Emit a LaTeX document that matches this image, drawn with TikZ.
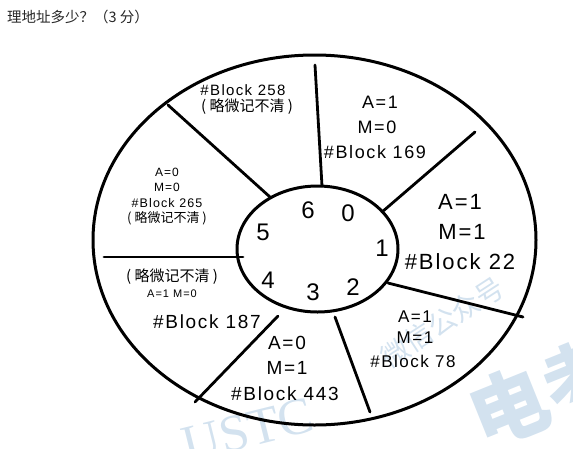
\documentclass[tikz,border=0pt]{standalone}
\usepackage{fontspec}
\usetikzlibrary{shapes.geometric}
\setmainfont{Liberation Sans}
\newfontfamily\hand[LetterSpace=9]{Liberation Sans}
\newfontfamily\cjk{Noto Sans CJK SC}
\newfontfamily\wmserif{Liberation Serif}
\definecolor{wmblue}{HTML}{D3E2EF}
\definecolor{titlegray}{HTML}{262626}
\begin{document}
\begin{tikzpicture}[x=1pt,y=-1pt,
  wheel/.style={line width=3pt, black},
  spoke/.style={line width=2.8pt, black, line cap=round},
  txt/.style={inner sep=0pt, anchor=center},
  wm/.style={inner sep=0pt, text=wmblue}]
\useasboundingbox (0,0) rectangle (573,448);
% watermark
\node[wm, rotate=33, font=\cjk\fontsize{28}{28}\selectfont] (wm1) at (442,322) {微信公众号};
\node[wm, rotate=14, font=\wmserif\fontsize{52}{52}\selectfont] (wm2) at (248,430) {USTC};
\node[wm, rotate=22, font=\cjk\bfseries\fontsize{78}{78}\selectfont] (wm3) at (545,392) {电考};
% title
\node[inner sep=0pt, anchor=west, text=titlegray, font=\cjk\fontsize{14.5}{16}\selectfont] (title) at (7,17) {理地址多少？（3 分）};
% wheel
\node[draw, wheel, ellipse, minimum width=443pt, minimum height=370pt, inner sep=0pt] (outer) at (314.5,240) {};
\coordinate (ic) at (317.5,249);
\draw[wheel] (ic) ellipse [x radius=80.5pt, y radius=63pt];
% spokes
\coordinate (s1a) at (315,65);  \coordinate (s1b) at (322,186);
\coordinate (s2a) at (168,105); \coordinate (s2b) at (270,197);
\coordinate (s3a) at (475,132); \coordinate (s3b) at (382,212);
\coordinate (s4a) at (104,257); \coordinate (s4b) at (243,257);
\coordinate (s5a) at (388,283); \coordinate (s5b) at (523,317);
\coordinate (s6a) at (335,317); \coordinate (s6b) at (370,412);
\coordinate (s7a) at (278,316); \coordinate (s7b) at (195,402);
\draw[spoke] (s1a) -- (s1b);
\draw[spoke] (s2a) -- (s2b);
\draw[spoke] (s3a) -- (s3b);
\draw[spoke] (s4a) -- (s4b);
\draw[spoke] (s5a) -- (s5b);
\draw[spoke] (s6a) -- (s6b);
\draw[spoke] (s7a) -- (s7b);
% inner digits
\begin{scope}[every node/.style={txt, font=\fontsize{24}{24}\selectfont}]
\node (d6) at (308,210) {6};
\node (d0) at (348,213) {0};
\node (d5) at (263,232) {5};
\node (d1) at (382,248) {1};
\node (d4) at (268,280) {4};
\node (d3) at (313,292) {3};
\node (d2) at (353,287) {2};
\end{scope}
% sector: top-left
\node[txt, font=\hand\fontsize{15}{15}\selectfont] (t258) at (243,90) {\#Block 258};
\node[txt, font=\cjk\fontsize{15}{15}\selectfont] (t258b) at (247,107) {( 略微记不清 )};
% sector: top-right
\node[txt, font=\hand\fontsize{18}{18}\selectfont] (t169a) at (380,102) {A=1};
\node[txt, font=\hand\fontsize{18}{18}\selectfont] (t169m) at (377,127) {M=0};
\node[txt, font=\hand\fontsize{18}{18}\selectfont] (t169) at (375,152) {\#Block 169};
% sector: right
\node[txt, font=\hand\fontsize{22}{22}\selectfont] (t22a) at (460,202) {A=1};
\node[txt, font=\hand\fontsize{22}{22}\selectfont] (t22m) at (462,232) {M=1};
\node[txt, font=\hand\fontsize{22}{22}\selectfont] (t22) at (460,262) {\#Block 22};
% sector: lower-right
\node[txt, font=\hand\fontsize{17}{17}\selectfont] (t78a) at (415,317) {A=1};
\node[txt, font=\hand\fontsize{17}{17}\selectfont] (t78m) at (415,338) {M=1};
\node[txt, font=\hand\fontsize{17}{17}\selectfont] (t78) at (413,361) {\#Block 78};
% sector: bottom
\node[txt, font=\hand\fontsize{19}{19}\selectfont] (t443a) at (287,343) {A=0};
\node[txt, font=\hand\fontsize{19}{19}\selectfont] (t443m) at (287,368) {M=1};
\node[txt, font=\hand\fontsize{19}{19}\selectfont] (t443) at (285,394) {\#Block 443};
% sector: lower-left
\node[txt, font=\cjk\fontsize{15}{15}\selectfont] (t187b) at (172,277) {( 略微记不清 )};
\node[txt, font=\hand\fontsize{11}{11}\selectfont] (t187am) at (172,294) {A=1 M=0};
\node[txt, font=\hand\fontsize{19}{19}\selectfont] (t187) at (207,322) {\#Block 187};
% sector: upper-left
\node[txt, font=\hand\fontsize{12}{12}\selectfont] (t265a) at (167,172) {A=0};
\node[txt, font=\hand\fontsize{12}{12}\selectfont] (t265m) at (167,187) {M=0};
\node[txt, font=\hand\fontsize{12.5}{12.5}\selectfont] (t265) at (167,203) {\#Block 265};
\node[txt, font=\cjk\fontsize{13}{13}\selectfont] (t265b) at (167,218) {( 略微记不清 )};
\end{tikzpicture}
\end{document}
